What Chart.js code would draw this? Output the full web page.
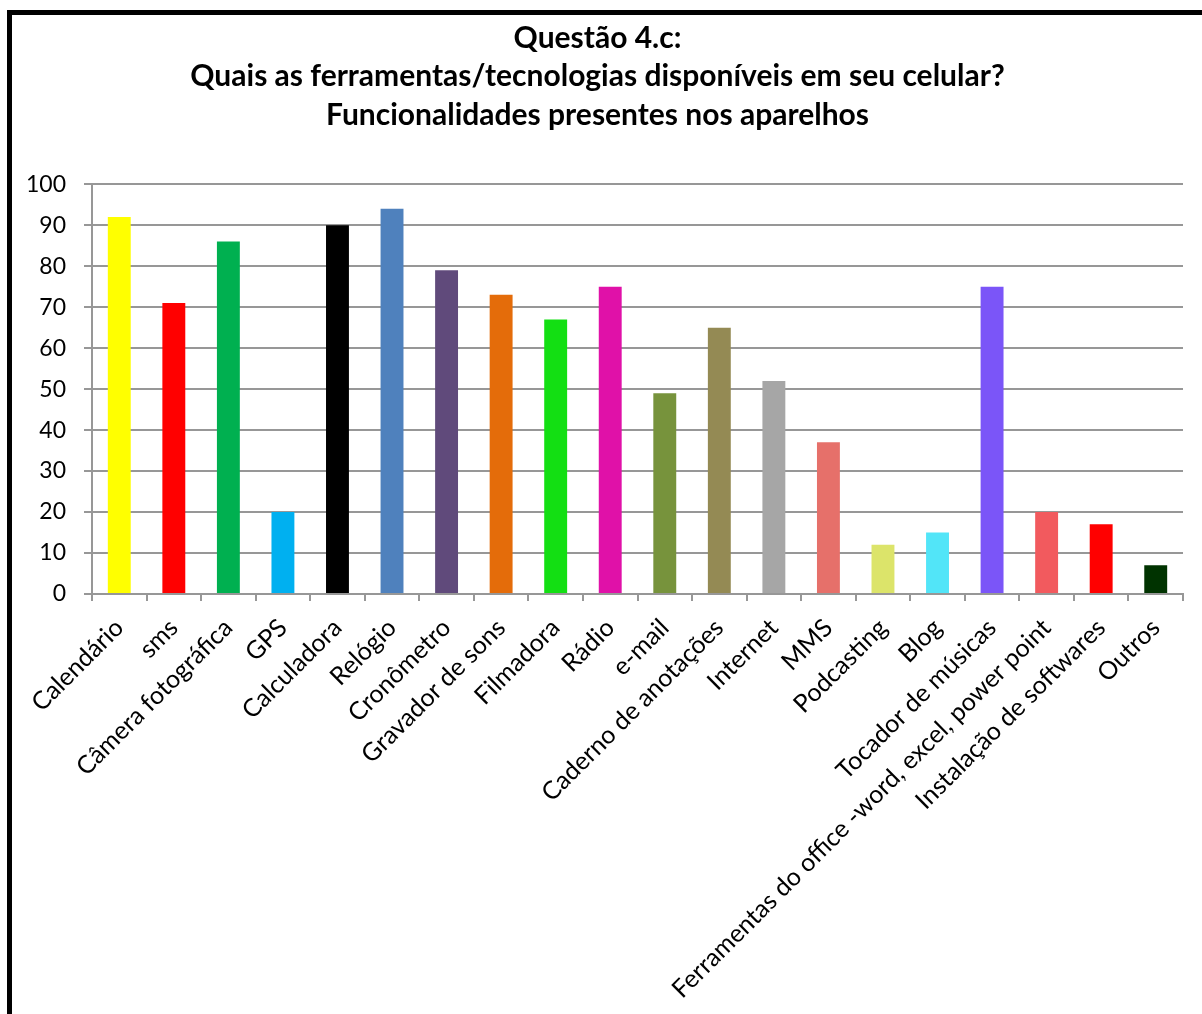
<!DOCTYPE html>
<html lang="pt-BR">
<head>
<meta charset="utf-8">
<title>Questão 4.c</title>
<script src="https://cdn.jsdelivr.net/npm/chart.js@4"></script>
<style>
    html, body { margin: 0; padding: 0; background: #fff; overflow: hidden; }
    #frame {
        position: absolute;
        left: 7px;
        top: 10px;
        width: 1260px;
        height: 1060px;
        border: 5px solid #000;
    }
    #FerramentasChart { display: block; }
</style>
</head>
<body>
<div id="frame">
    <canvas id="FerramentasChart" width="1190" height="999"></canvas>
</div>
<script>
    const tituloLinhas = [
        'Questão 4.c:',
        'Quais as ferramentas/tecnologias disponíveis em seu celular?',
        'Funcionalidades presentes nos aparelhos'
    ];

    const categorias = [
        'Calendário', 'sms', 'Câmera fotográfica', 'GPS', 'Calculadora',
        'Relógio', 'Cronômetro', 'Gravador de sons', 'Filmadora', 'Rádio',
        'e-mail', 'Caderno de anotações', 'Internet', 'MMS', 'Podcasting',
        'Blog', 'Tocador de músicas', 'Ferramentas do office -word, excel, power point',
        'Instalação de softwares', 'Outros'
    ];

    const valores = [92, 71, 86, 20, 90, 94, 79, 73, 67, 75, 49, 65, 52, 37, 12, 15, 75, 20, 17, 7];

    const cores = [
        '#FFFF00', '#FF0000', '#00B050', '#00B0F0', '#000000',
        '#4F81BD', '#604A7B', '#E46C0A', '#13DF13', '#E011A8',
        '#77933C', '#948A54', '#A6A6A6', '#E6706A', '#DCE46A',
        '#52E5F8', '#7B55F8', '#F25A5E', '#FF0000', '#003300'
    ];

    const yTicks = { min: 0, max: 100, step: 10 };

    const cinzaGrade = '#979797';
    const fonte = 'Lato, "Open Sans", sans-serif';

    window.onload = function() {
        const ctx = document.getElementById('FerramentasChart').getContext('2d');

        const FerramentasChart = new Chart(ctx, {
            type: 'bar',
            data: {
                labels: categorias,
                datasets: [{
                    label: 'Funcionalidades',
                    data: valores,
                    backgroundColor: cores,
                    borderWidth: 0,
                    barPercentage: 1,
                    categoryPercentage: 0.42
                }]
            },
            options: {
                responsive: false,
                animation: false,
                devicePixelRatio: 1,
                layout: {
                    padding: { left: 0, right: 19, top: 0, bottom: 0 }
                },
                plugins: {
                    legend: { display: false },
                    tooltip: { enabled: false },
                    title: {
                        display: true,
                        text: tituloLinhas,
                        color: '#000',
                        font: { family: fonte, size: 30, weight: 'bold', lineHeight: 1.28 },
                        padding: { top: 4, bottom: 50 }
                    }
                },
                scales: {
                    x: {
                        offset: true,
                        border: { color: cinzaGrade, width: 2 },
                        grid: {
                            offset: true,
                            drawOnChartArea: false,
                            drawTicks: true,
                            tickLength: 7,
                            color: cinzaGrade,
                            lineWidth: 2
                        },
                        ticks: {
                            color: '#000',
                            font: { family: fonte, size: 25 },
                            minRotation: 45,
                            maxRotation: 45,
                            autoSkip: false,
                            padding: 12,
                            labelOffset: 0
                        },
                        afterFit: function(scale) {
                            scale.height = 420;
                        }
                    },
                    y: {
                        min: yTicks.min,
                        max: yTicks.max,
                        border: { color: cinzaGrade, width: 2 },
                        grid: {
                            color: cinzaGrade,
                            lineWidth: 2,
                            drawTicks: true,
                            tickLength: 8
                        },
                        ticks: {
                            stepSize: yTicks.step,
                            color: '#000',
                            font: { family: fonte, size: 23 },
                            padding: 18
                        },
                        afterFit: function(scale) {
                            scale.width = 80;
                        }
                    }
                }
            }
        });
    };
</script>
</body>
</html>
